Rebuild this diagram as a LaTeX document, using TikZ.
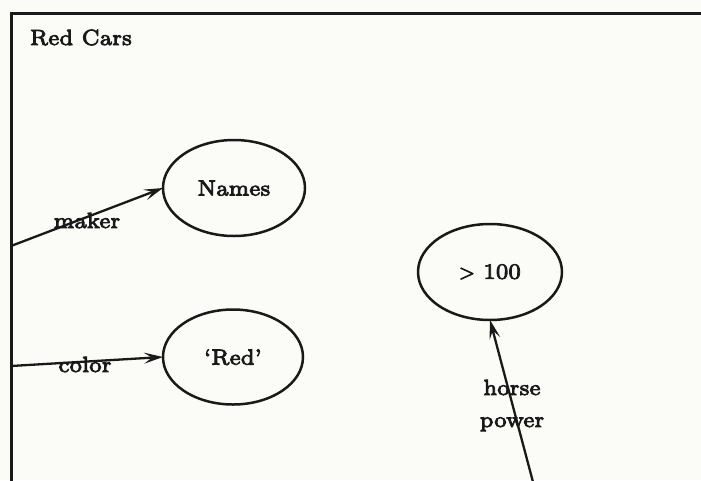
\documentclass[tikz,border=0pt]{standalone}
\usetikzlibrary{shapes.geometric,arrows.meta}
\definecolor{paper}{RGB}{251,251,248}
\definecolor{ink}{RGB}{25,25,25}
\font\lblfont=cmr7 at 22pt
% slightly heavier glyphs: fill and stroke the outlines
\newcommand\inked[1]{\special{pdf:literal direct q 2 Tr 0.8 w}#1\special{pdf:literal direct Q}}
\begin{document}
\begin{tikzpicture}[x=1pt,y=-1pt,
  every node/.style={inner sep=0pt,outer sep=0pt,text=ink,font=\fontsize{22}{26}\selectfont\lblfont},
  oval/.style={ellipse,draw=ink,line width=2.5pt,minimum width=142pt,minimum height=96pt},
  link/.style={draw=ink,line width=2.3pt,-{Stealth[length=19pt,width=11pt,inset=8pt]}},
  frameline/.style={draw=ink,line width=3pt}]
  % paper and page size
  \fill[paper] (0,0) rectangle (701,480);
  \useasboundingbox (0,0) rectangle (701,480);

  % enclosing frame (left and top edges visible)
  \draw[frameline] (11,482) -- (11,13) -- (703,13);

  % title
  \node[anchor=base west] (title) at (30,45) {\inked{Red Cars}};

  % value ovals
  \node[oval] (names) at (234,188) {\inked{Names}};
  \node[oval,minimum width=140pt,minimum height=95pt] (red) at (233,357) {\inked{`Red'}};
  \node[oval,minimum width=144pt] (hp) at (490,272) {\inked{$>$ 100}};

  % free ends of the attribute links
  \coordinate (makerstart) at (11,246);
  \coordinate (colorstart) at (11,366);
  \coordinate (hpstart) at (533,482);

  % attribute links
  \draw[link] (makerstart) -- (names.west);
  \draw[link] (colorstart) -- (red.west);
  \draw[link] (hpstart) -- (hp.south);

  % attribute names
  \node[anchor=base] (makerlbl) at (87,228) {\inked{maker}};
  \node[anchor=base] (colorlbl) at (85,372) {\inked{color}};
  \node[anchor=base] (horselbl) at (512,395) {\inked{horse}};
  \node[anchor=base] (powerlbl) at (512,427) {\inked{power}};
\end{tikzpicture}
\end{document}
